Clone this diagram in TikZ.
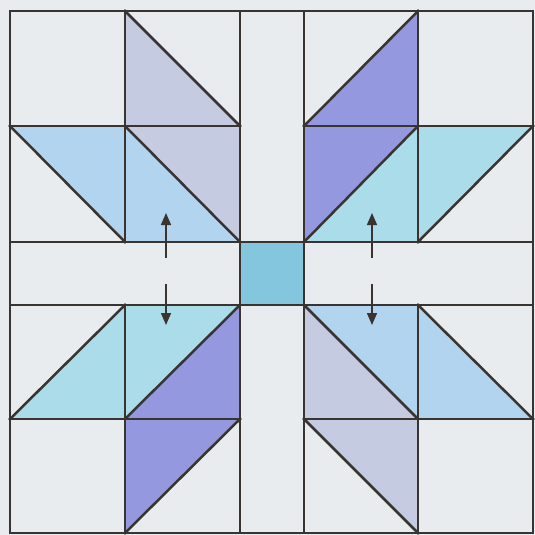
\documentclass[tikz,border=0pt]{standalone}
\usetikzlibrary{arrows.meta}

\definecolor{paper}{HTML}{E8ECEF}
\definecolor{ink}{HTML}{3A3431}
\definecolor{grayblue}{HTML}{C5CCE2}
\definecolor{skyblue}{HTML}{B2D4EF}
\definecolor{aqua}{HTML}{ABDCEA}
\definecolor{violet}{HTML}{9498DE}
\definecolor{centre}{HTML}{84C6DD}

\begin{document}
\begin{tikzpicture}[x=1pt, y=-1pt,
    seam/.style={draw=ink, line width=2.5pt, line cap=rect},
    nudge/.style={draw=ink, line width=1.5pt, -{Triangle[length=12pt, width=10pt]}}
]

% Paper background fixes the bounding box
\fill[paper] (0,0) rectangle (535,535);

% Grid points of the block
\foreach \i/\x in {0/10,1/125,2/240,3/304,4/418,5/533}{
    \foreach \j/\y in {0/11,1/126,2/242,3/305,4/419,5/533}{
        \coordinate (g\i\j) at (\x,\y);
    }
}

% Top left quadrant
\fill[grayblue] (g10) -- (g21) -- (g22) -- (g11) -- cycle;
\fill[skyblue] (g01) -- (g11) -- (g22) -- (g12) -- cycle;

% Top right quadrant
\fill[violet] (g40) -- (g41) -- (g32) -- (g31) -- cycle;
\fill[aqua] (g41) -- (g51) -- (g42) -- (g32) -- cycle;

% Bottom left quadrant
\fill[aqua] (g04) -- (g13) -- (g23) -- (g14) -- cycle;
\fill[violet] (g23) -- (g24) -- (g15) -- (g14) -- cycle;

% Bottom right quadrant
\fill[skyblue] (g33) -- (g43) -- (g54) -- (g44) -- cycle;
\fill[grayblue] (g33) -- (g44) -- (g45) -- (g34) -- cycle;

% Centre square
\fill[centre] (g22) rectangle (g33);

% Outer border and sashing
\draw[seam] (g00) rectangle (g55);
\foreach \i in {2,3}{
    \draw[seam] (g\i0) -- (g\i5);
    \draw[seam] (g0\i) -- (g5\i);
}

% Lines inside the quadrants
\foreach \a/\b in {10/12,13/15,40/42,43/45,01/21,31/51,04/24,34/54}{
    \draw[seam] (g\a) -- (g\b);
}

% Diagonals
\foreach \a/\b in {10/21,11/22,01/12,31/40,32/41,42/51,04/13,14/23,15/24,33/44,43/54,34/45}{
    \draw[seam] (g\a) -- (g\b);
}

% Arrows across the sashing
\foreach \k/\x in {l/166,r/372}{
    \coordinate (\k up0) at (\x,258);
    \coordinate (\k up1) at (\x,213);
    \coordinate (\k dn0) at (\x,284);
    \coordinate (\k dn1) at (\x,325);
    \draw[nudge] (\k up0) -- (\k up1);
    \draw[nudge] (\k dn0) -- (\k dn1);
}

\end{tikzpicture}
\end{document}
